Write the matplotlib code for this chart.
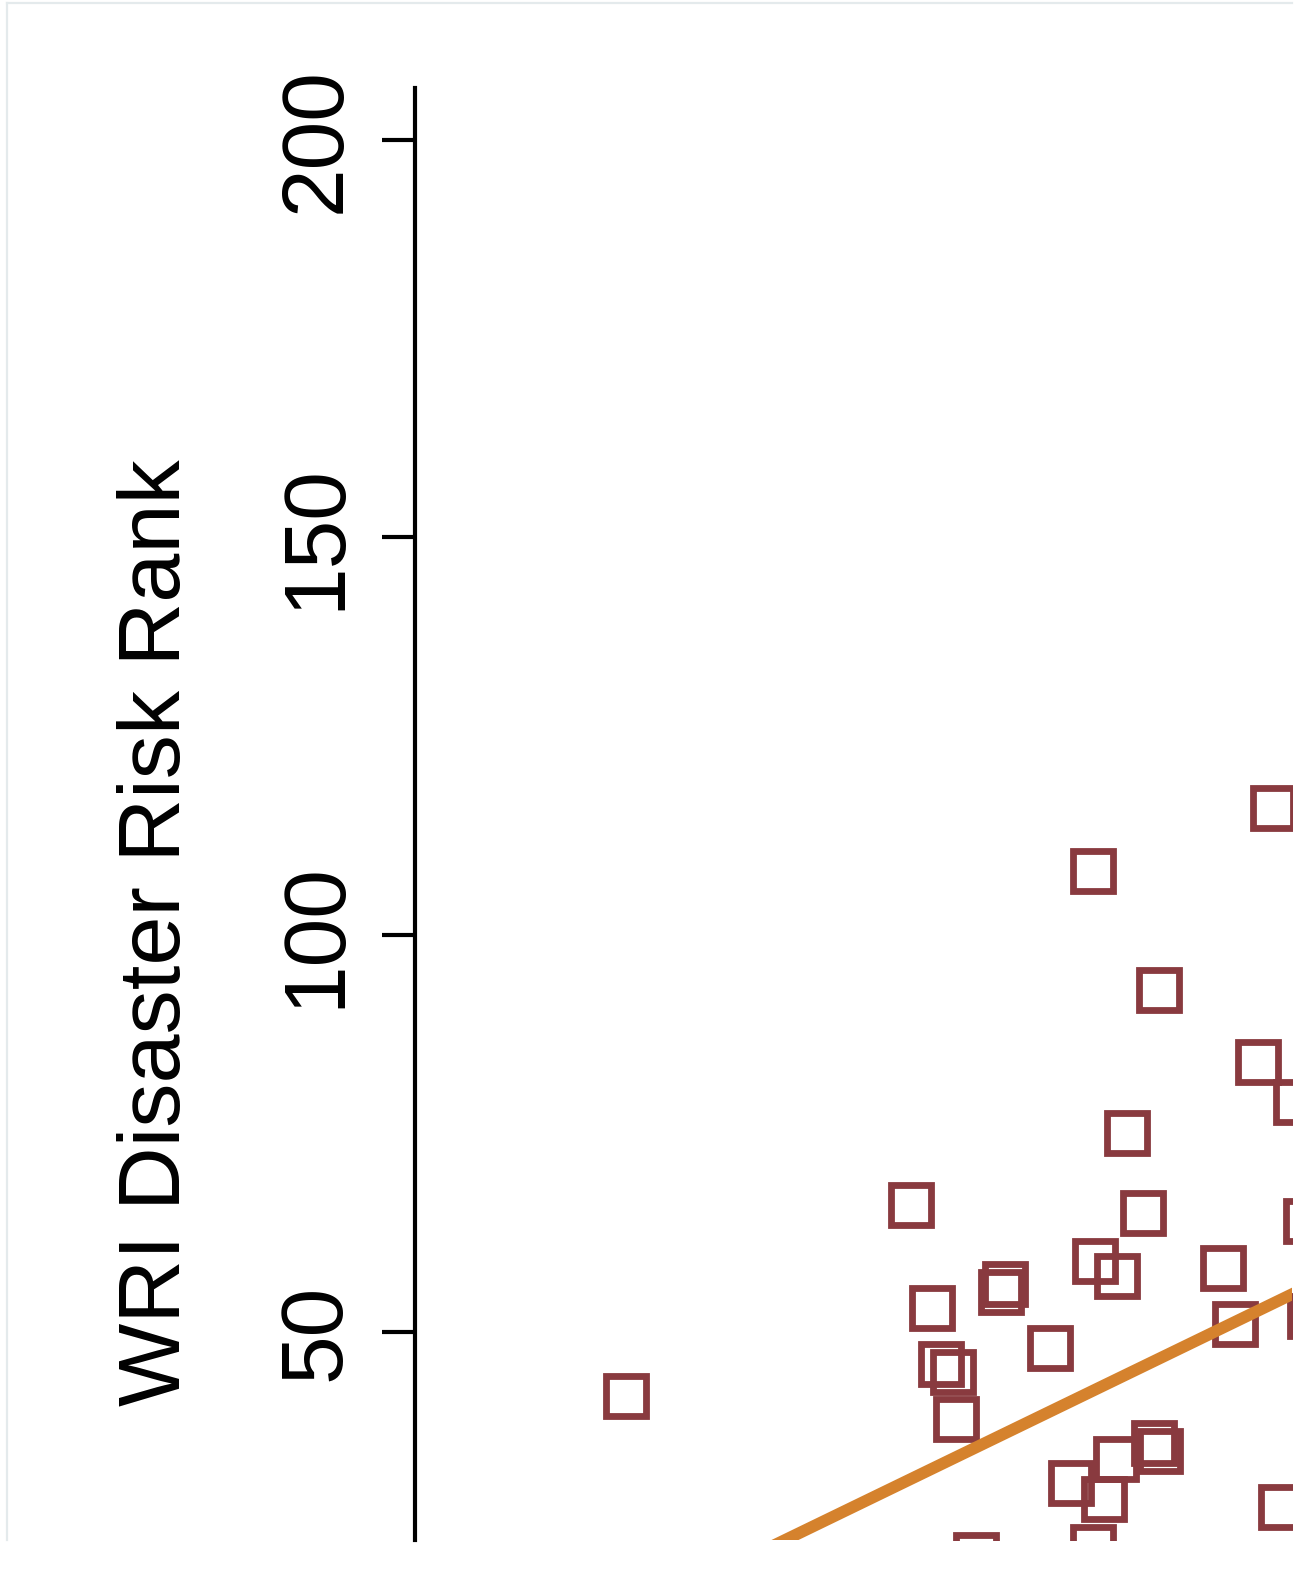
import matplotlib
matplotlib.use("Agg")
import matplotlib.pyplot as plt
from matplotlib.lines import Line2D
import numpy as np

# ---- data (x on an arbitrary, unlabelled scale; y = WRI Disaster Risk Rank) ----
x_vals = [67.8, 85.75, 74.4, 84.3, 88.1, 71.2, 49.6, 72.8, 89.1, 68.0,
          70.2, 80.8, 59.0, 58.6, 51.7, 82.0, 89.5, 63.5, 52.6, 53.8,
          21.1, 54.1, 73.9, 74.5, 70.1, 65.6, 68.9, 86.6, 56.1, 67.8]
rank_vals = [108, 116, 93, 84, 79, 75, 66, 65, 64, 59,
             57, 58, 56, 55, 53, 51, 52, 48, 46, 45,
             42, 39, 36, 35, 34, 31, 29, 28, 22, 23]
fit_intercept = 1.26
fit_slope = 0.610
fit_x_range = [20.0, 95.0]
y_ticks = [50, 100, 150, 200]
y_label = "WRI Disaster Risk Rank"

W, H = 1297, 1582
fig = plt.figure(figsize=(W / 100, H / 100), dpi=100)
fig.patch.set_facecolor("white")

left_px, right_px, top_px, bottom_px = 415, 1292, 88, 1540
ax = fig.add_axes([left_px / W, 1 - bottom_px / H,
                   (right_px - left_px) / W, (bottom_px - top_px) / H])
ax.set_facecolor("white")
ax.set_xlim(0, (right_px - left_px) / 10.0)
ax.set_ylim(23.83, 206.54)

ax.plot(x_vals, rank_vals, linestyle="none", marker="s", markersize=29.2,
        markerfacecolor="none", markeredgecolor="#893a3f", markeredgewidth=4.9,
        zorder=2)

fx = np.array(fit_x_range)
ax.plot(fx, fit_intercept + fit_slope * fx, color="#d5822d", linewidth=8.5,
        solid_capstyle="butt", zorder=3)

for s in ["top", "right", "bottom"]:
    ax.spines[s].set_visible(False)
ax.spines["left"].set_linewidth(3.0)
ax.spines["left"].set_color("black")
ax.xaxis.set_visible(False)

ax.set_yticks(y_ticks)
ax.set_yticklabels([str(t) for t in y_ticks], rotation=90, va="center",
                   fontfamily="Liberation Sans", fontsize=63)
ax.tick_params(axis="y", length=23.8, width=3.0, pad=17.5, color="black")

fig.text(180 / W, 1 - 933 / H, y_label, rotation=90, rotation_mode="anchor",
         ha="center", va="baseline", fontfamily="Liberation Sans", fontsize=63.5)

# light outer frame (cropped)
fig.add_artist(Line2D([7 / W, 1292 / W], [1 - 3 / H, 1 - 3 / H],
                      transform=fig.transFigure, color="#e4eaec", linewidth=1.6))
fig.add_artist(Line2D([7 / W, 7 / W], [1 - 3 / H, 1 - 1540 / H],
                      transform=fig.transFigure, color="#e4eaec", linewidth=1.6))

fig.savefig("out.png", dpi=100, facecolor="white")
